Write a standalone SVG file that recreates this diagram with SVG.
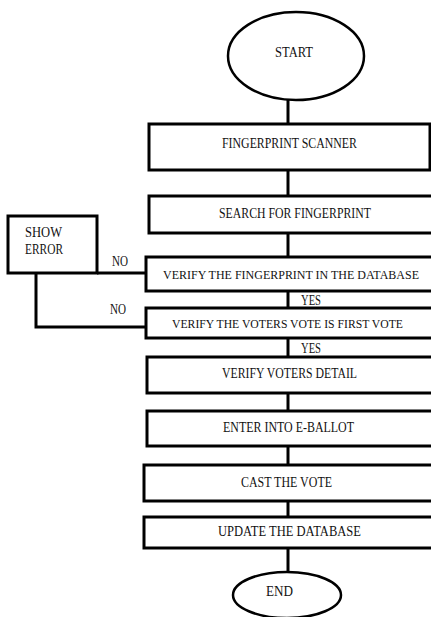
<svg xmlns="http://www.w3.org/2000/svg" width="431" height="617" viewBox="0 0 431 617">
<style>
.box{fill:#fff;stroke:#000;stroke-width:3}
.term{fill:#fff;stroke:#000;stroke-width:2.5}
.conn{fill:none;stroke:#000;stroke-width:3}
text{font-family:"Liberation Serif","Times New Roman",serif;font-size:14px;fill:#111}
.long{font-size:12px}
</style>
<rect width="431" height="617" fill="#fff"/>
<g id="connectors">
<line class="conn" x1="288" y1="99" x2="288" y2="124"/>
<line class="conn" x1="288" y1="170" x2="288" y2="196"/>
<line class="conn" x1="288" y1="233" x2="288" y2="257"/>
<line class="conn" x1="288" y1="291" x2="288" y2="308"/>
<line class="conn" x1="288" y1="338" x2="288" y2="357"/>
<line class="conn" x1="288" y1="393" x2="288" y2="411"/>
<line class="conn" x1="288" y1="446" x2="288" y2="465"/>
<line class="conn" x1="288" y1="501" x2="288" y2="517"/>
<line class="conn" x1="288" y1="548" x2="288" y2="572"/>
<line class="conn" x1="97" y1="273" x2="146" y2="273"/>
<path class="conn" d="M36,273 V327 H146"/>
<text x="112" y="266" textLength="16" lengthAdjust="spacingAndGlyphs">NO</text>
<text x="110" y="314" textLength="16" lengthAdjust="spacingAndGlyphs">NO</text>
<text x="301" y="305" textLength="20" lengthAdjust="spacingAndGlyphs">YES</text>
<text x="301" y="353" textLength="20" lengthAdjust="spacingAndGlyphs">YES</text>
</g>
<g id="start">
<ellipse class="term" cx="296" cy="56" rx="68" ry="44"/>
<text x="275" y="57" textLength="38" lengthAdjust="spacingAndGlyphs">START</text>
</g>
<g id="scanner">
<rect class="box" x="149" y="124" width="281" height="46"/>
<text x="222" y="148" textLength="135" lengthAdjust="spacingAndGlyphs">FINGERPRINT SCANNER</text>
</g>
<g id="search">
<rect class="box" x="149" y="196" width="291" height="37"/>
<text x="219" y="218" textLength="152" lengthAdjust="spacingAndGlyphs">SEARCH FOR FINGERPRINT</text>
</g>
<g id="verify-fp">
<rect class="box" x="146" y="257" width="294" height="34"/>
<text class="long" x="163" y="279" textLength="256" lengthAdjust="spacingAndGlyphs">VERIFY THE FINGERPRINT IN THE DATABASE</text>
</g>
<g id="verify-first">
<rect class="box" x="146" y="308" width="294" height="30"/>
<text class="long" x="172" y="328" textLength="231" lengthAdjust="spacingAndGlyphs">VERIFY THE VOTERS VOTE IS FIRST VOTE</text>
</g>
<g id="show-error">
<rect class="box" x="8" y="216" width="89" height="57"/>
<text x="25" y="237" textLength="37" lengthAdjust="spacingAndGlyphs">SHOW</text>
<text x="25" y="254" textLength="38" lengthAdjust="spacingAndGlyphs">ERROR</text>
</g>
<g id="verify-detail">
<rect class="box" x="147" y="357" width="293" height="36"/>
<text x="222" y="378" textLength="135" lengthAdjust="spacingAndGlyphs">VERIFY VOTERS DETAIL</text>
</g>
<g id="ballot">
<rect class="box" x="147" y="411" width="293" height="35"/>
<text x="223" y="432" textLength="131" lengthAdjust="spacingAndGlyphs">ENTER INTO E-BALLOT</text>
</g>
<g id="cast">
<rect class="box" x="144" y="465" width="296" height="36"/>
<text x="241" y="487" textLength="91" lengthAdjust="spacingAndGlyphs">CAST THE VOTE</text>
</g>
<g id="update">
<rect class="box" x="144" y="517" width="296" height="31"/>
<text x="218" y="536" textLength="143" lengthAdjust="spacingAndGlyphs">UPDATE THE DATABASE</text>
</g>
<g id="end">
<ellipse class="term" cx="287" cy="595" rx="54" ry="23"/>
<text x="266" y="596" textLength="27" lengthAdjust="spacingAndGlyphs">END</text>
</g>
</svg>
